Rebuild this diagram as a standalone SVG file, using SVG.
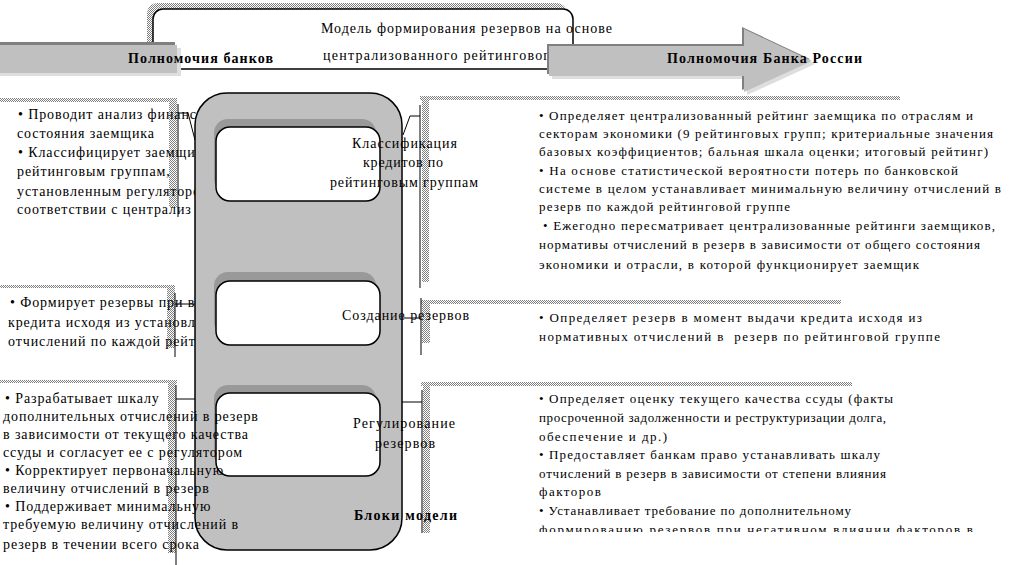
<svg xmlns="http://www.w3.org/2000/svg" width="1011" height="565" viewBox="0 0 1011 565">
<defs>
<pattern id="hatch" width="2" height="2" patternUnits="userSpaceOnUse">
<rect width="2" height="2" fill="#ffffff"/>
<rect width="1" height="1" fill="#808080"/>
<rect x="1" y="1" width="1" height="1" fill="#808080"/>
</pattern>
<clipPath id="clipRB"><rect x="430" y="380" width="581" height="152"/></clipPath>
<style>
.t{font-family:"Liberation Serif","Times New Roman",serif;font-size:14px;fill:#000}
.l{letter-spacing:0.9px}
.r{font-size:13px}
.b{font-weight:bold}
.h{fill:url(#hatch)}
.cn{stroke:#000;stroke-width:1;fill:none}
.ib{fill:#fff;stroke:#000;stroke-width:1.5}
.is{fill:#999999}
</style>
</defs>
<rect width="1011" height="565" fill="#ffffff"/>

<g id="title">
<rect class="h" x="147" y="3" width="420" height="60" rx="10"/>
<rect x="153" y="9" width="420" height="60" rx="10" fill="#fff" stroke="#000" stroke-width="1.5"/>
<text class="t" x="321" y="33" textLength="291">Модель формирования резервов на основе</text>
<text class="t" x="323" y="60" textLength="234">централизованного рейтингового</text>
</g>

<g id="banks-band">
<rect x="0" y="48" width="181" height="28" fill="#dedede"/>
<rect x="0" y="42" width="175" height="28" fill="#808080"/>
<rect x="0" y="45" width="177" height="28" fill="#c0c0c0"/>
<text class="t b" x="128" y="63" textLength="145">Полномочия банков</text>
</g>

<g id="cbr-arrow">
<polygon points="552,49 747,49 747,32 815,64 747,95 747,79 552,79" fill="#dedede"/>
<polygon points="547,44 742,44 742,27 810,59 742,90 742,74 547,74" fill="#808080"/>
<polygon points="549,46 744,46 744,29 812,61 744,92 744,76 549,76" fill="#c0c0c0"/>
<text class="t b" x="667" y="63" textLength="195">Полномочия Банка России</text>
</g>

<g id="frames">
<rect class="h" x="0" y="98" width="177" height="4"/>
<rect class="h" x="169" y="98" width="8" height="109"/>
<rect class="h" x="0" y="285" width="175" height="3"/>
<rect class="h" x="167" y="285" width="8" height="63"/>
<rect class="h" x="0" y="380" width="177" height="3"/>
<rect class="h" x="168" y="380" width="8" height="173"/>
<rect class="h" x="420" y="96" width="480" height="4"/>
<rect class="h" x="422" y="96" width="7" height="186"/>
<rect class="h" x="421" y="300" width="420" height="4"/>
<rect class="h" x="422" y="300" width="8" height="43"/>
<rect class="h" x="421" y="382" width="431" height="4"/>
<rect class="h" x="423" y="382" width="7" height="151"/>
</g>

<g id="banks-classify">
<text class="t l" x="18" y="119">• Проводит анализ финанс</text>
<text class="t l" x="17" y="138">состояния заемщика</text>
<text class="t l" x="18" y="157">• Классифицирует заемщик</text>
<text class="t l" x="17" y="176">рейтинговым группам,</text>
<text class="t l" x="17" y="196">установленным регулятором</text>
<text class="t l" x="17" y="214">соответствии с централиз</text>
</g>

<g id="banks-create">
<text class="t l" x="10" y="307">• Формирует резервы при вы</text>
<text class="t l" x="8" y="327">кредита исходя из установл</text>
<text class="t l" x="8" y="346">отчислений по каждой рейти</text>
</g>

<g id="connectors">
<polyline class="cn" points="178,104 178,217"/>
<polyline class="cn" points="178,113 188,113 195,140"/>
<polyline class="cn" points="420,105 420,288"/>
<polyline class="cn" points="420,116 410,116 403,135"/>
<polyline class="cn" points="175,293 175,357"/>
<polyline class="cn" points="175,304 196,304"/>
<polyline class="cn" points="421,298 421,355"/>
<polyline class="cn" points="421,318 402,318"/>
<polyline class="cn" points="176,385 176,565"/>
<polyline class="cn" points="176,399 196,399"/>
<polyline class="cn" points="422,390 422,533"/>
<polyline class="cn" points="422,402 402,402"/>
</g>

<g id="model-blocks">
<rect x="195" y="93" width="207" height="457" rx="32" fill="#c0c0c0" stroke="#000" stroke-width="1.5"/>
<rect class="is" x="214" y="119" width="162" height="74" rx="14"/>
<rect class="ib" x="216" y="127" width="164" height="74" rx="14"/>
<rect class="is" x="214" y="272" width="162" height="64" rx="14"/>
<rect class="ib" x="216" y="281" width="164" height="64" rx="14"/>
<rect class="is" x="214" y="385" width="162" height="83" rx="14"/>
<rect class="ib" x="216" y="393" width="164" height="83" rx="14"/>
</g>

<g id="banks-regulate">
<text class="t l" x="5" y="403">• Разрабатывает шкалу</text>
<text class="t l" x="3" y="421">дополнительных отчислений в резерв</text>
<text class="t l" x="3" y="439">в зависимости от текущего качества</text>
<text class="t l" x="3" y="457">ссуды и согласует ее с регулятором</text>
<text class="t l" x="5" y="475">• Корректирует первоначальную</text>
<text class="t l" x="3" y="493">величину отчислений в резерв</text>
<text class="t l" x="5" y="511">• Поддерживает минимальную</text>
<text class="t l" x="3" y="529">требуемую величину отчислений в</text>
<text class="t l" x="3" y="549">резерв в течении всего срока</text>
</g>

<g id="block-labels">
<text class="t" x="352" y="148" textLength="105">Классификация</text>
<text class="t" x="363" y="167" textLength="80">кредитов по</text>
<text class="t" x="330" y="187" textLength="148">рейтинговым группам</text>
<text class="t" x="342" y="320" textLength="127">Создание резервов</text>
<text class="t" x="353" y="428" textLength="102">Регулирование</text>
<text class="t" x="375" y="448" textLength="60">резервов</text>
<text class="t b" x="354" y="520" textLength="103">Блоки модели</text>
</g>

<g id="cbr-classify">
<text class="t r" x="539" y="120" textLength="434">• Определяет централизованный рейтинг заемщика по отраслям и</text>
<text class="t r" x="539" y="138" textLength="454">секторам экономики (9 рейтинговых групп; критериальные значения</text>
<text class="t r" x="539" y="156" textLength="449">базовых коэффициентов; бальная шкала оценки; итоговый рейтинг)</text>
<text class="t r" x="539" y="175" textLength="419">• На основе статистической вероятности потерь по банковской</text>
<text class="t r" x="539" y="193" textLength="462">системе в целом устанавливает минимальную величину отчислений в</text>
<text class="t r" x="539" y="211" textLength="251">резерв по каждой рейтинговой группе</text>
<text class="t r" x="543" y="230" textLength="452">• Ежегодно пересматривает централизованные рейтинги заемщиков,</text>
<text class="t r" x="539" y="249" textLength="441">нормативы отчислений в резерв в зависимости от общего состояния</text>
<text class="t r" x="539" y="269" textLength="380">экономики и отрасли, в которой функционирует заемщик</text>
</g>

<g id="cbr-create">
<text class="t r" x="539" y="322" textLength="383">• Определяет резерв в момент выдачи кредита исходя из</text>
<text class="t r" x="539" y="341" textLength="401" xml:space="preserve">нормативных отчислений в  резерв по рейтинговой группе</text>
</g>

<g id="cbr-regulate" clip-path="url(#clipRB)">
<text class="t r" x="539" y="403" textLength="354">• Определяет оценку текущего качества ссуды (факты</text>
<text class="t r" x="539" y="422" textLength="347">просроченной задолженности и реструктуризации долга,</text>
<text class="t r" x="539" y="441" textLength="128">обеспечение и др.)</text>
<text class="t r" x="539" y="459" textLength="341">• Предоставляет банкам право устанавливать шкалу</text>
<text class="t r" x="539" y="478" textLength="347">отчислений в резерв в зависимости от степени влияния</text>
<text class="t r" x="539" y="496" textLength="62">факторов</text>
<text class="t r" x="539" y="515" textLength="312">• Устанавливает требование по дополнительному</text>
<text class="t r" x="539" y="534" textLength="434">формированию резервов при негативном влиянии факторов в</text>
</g>
</svg>
